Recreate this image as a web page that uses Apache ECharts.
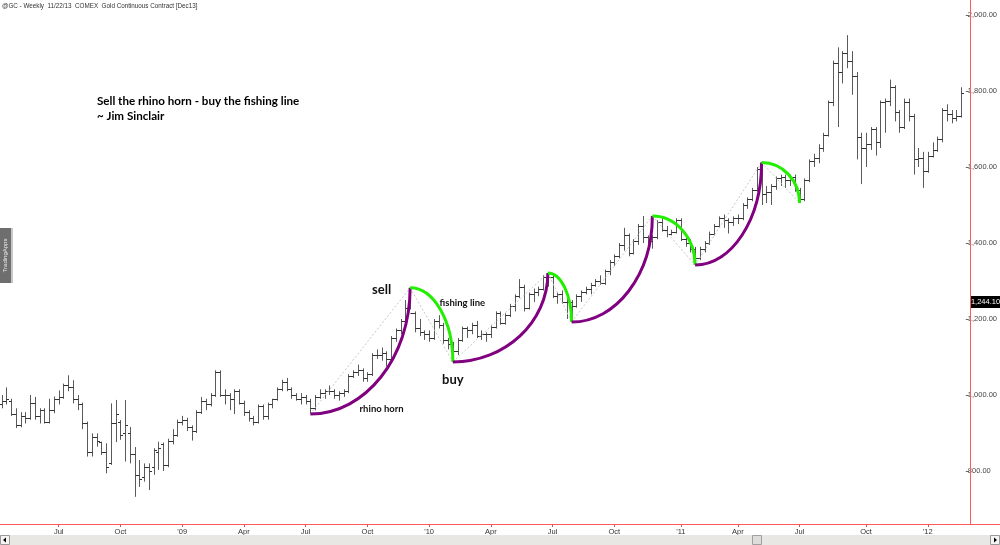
<!DOCTYPE html>
<html><head><meta charset="utf-8">
<script src="https://cdn.jsdelivr.net/npm/echarts@6/dist/echarts.min.js"></script>
<style>html,body{margin:0;padding:0;background:#fff}#c{width:1000px;height:545px}</style>
</head><body><div id="c"></div>
<script>
// ---------- DATA ----------
const firstWeek = '2008-04-11';   // first weekly bar (Friday)
const weekSlots = 204;            // 203 bars + one empty slot at the right edge
// weekly bars: [open, high, low, close]
const weeklyOHLC = [
[975,1000,965,985],[985,1020,975,990],[985,990,945,950],[950,965,913,920],[920,955,915,945],[945,955,925,940],[940,1000,935,980],[980,995,935,945],[945,965,925,960],[960,965,925,930],[930,990,925,960],[960,996,952,990],
[990,1012,975,995],[995,1030,990,1025],[1025,1052,1010,1020],[1020,1039,978,990],[990,1000,960,975],[975,980,910,925],[925,930,838,850],[850,899,838,890],[890,899,864,880],[875,877,842,850],[850,873,794,810],[820,978,816,925],[925,987,876,950],
[930,934,882,895],[900,987,825,920],[900,916,820,845],[845,863,732,790],[790,829,758,780],[785,820,772,810],[810,820,750,800],[810,860,790,855],[850,877,803,860],[870,875,800,815],[815,885,810,880],[880,910,870,895],[895,935,890,930],
[930,945,920,935],[935,940,905,915],[915,920,880,905],[905,960,900,955],[955,995,950,985],[985,990,960,975],[975,1005,970,1000],[1000,1065,995,1060],[1060,1065,995,1000],[1000,1015,975,1000],[1000,1005,960,990],[990,1015,950,1010],[1010,1015,975,980],
[980,985,945,955],[955,960,930,940],[940,945,920,930],[930,975,925,970],[970,975,935,945],[945,980,935,975],[975,990,965,990],[990,1020,985,1015],[1015,1040,1010,1035],[1035,1045,1010,1015],[1015,1020,990,1000],[1000,1005,985,990],[990,1005,975,995],
[995,1000,975,985],[985,990,950,965],[965,1000,960,995],[995,1015,990,1005],[1005,1015,990,1010],[1010,1025,1000,1010],[1010,1015,990,1000],[1000,1010,985,1005],[1005,1015,995,1010],[1010,1055,1005,1050],[1050,1065,1045,1060],[1060,1080,1050,1065],[1065,1070,1035,1045],
[1045,1060,1035,1055],[1055,1110,1050,1105],[1105,1120,1095,1105],[1105,1125,1090,1110],[1110,1115,1075,1095],[1095,1155,1090,1150],[1150,1175,1140,1170],[1170,1200,1160,1195],[1195,1250,1185,1230],[1230,1282,1225,1215],[1215,1220,1165,1175],[1175,1200,1155,1165],[1165,1170,1145,1160],
[1160,1170,1140,1150],[1150,1200,1145,1195],[1195,1210,1175,1185],[1185,1190,1135,1145],[1145,1150,1120,1135],[1135,1140,1087,1115],[1115,1150,1105,1145],[1145,1180,1140,1175],[1175,1180,1150,1170],[1170,1190,1160,1185],[1185,1195,1150,1155],[1155,1170,1145,1160],[1160,1165,1140,1160],
[1160,1185,1150,1180],[1180,1220,1175,1215],[1215,1220,1185,1190],[1190,1215,1185,1210],[1210,1240,1205,1235],[1235,1265,1220,1260],[1260,1305,1255,1285],[1285,1290,1220,1230],[1230,1270,1225,1265],[1265,1280,1245,1270],[1270,1285,1260,1280],[1280,1315,1275,1310],[1310,1321,1285,1310],
[1310,1315,1255,1260],[1260,1270,1240,1265],[1265,1275,1240,1245],[1245,1255,1200,1245],[1245,1250,1192,1235],[1235,1265,1230,1260],[1260,1275,1245,1270],[1270,1285,1265,1280],[1280,1295,1265,1290],[1290,1305,1285,1300],[1300,1315,1290,1295],[1295,1330,1290,1325],[1325,1355,1315,1350],
[1350,1370,1340,1365],[1365,1400,1360,1395],[1395,1440,1380,1420],[1420,1425,1365,1375],[1375,1410,1370,1405],[1405,1450,1395,1445],[1445,1471,1400,1415],[1415,1420,1380,1405],[1405,1420,1385,1415],[1415,1460,1410,1455],[1455,1470,1430,1435],[1435,1445,1415,1425],[1425,1435,1420,1430],
[1430,1465,1425,1460],[1460,1465,1405,1410],[1410,1420,1390,1400],[1400,1410,1375,1385],[1385,1390,1342,1360],[1360,1390,1355,1385],[1385,1405,1375,1400],[1400,1430,1395,1425],[1425,1450,1420,1445],[1445,1470,1440,1465],[1465,1475,1440,1460],[1460,1465,1425,1455],[1455,1470,1445,1465],
[1465,1475,1450,1465],[1465,1505,1460,1500],[1500,1520,1490,1515],[1515,1545,1510,1540],[1540,1600,1535,1595],[1595,1612,1500,1530],[1530,1550,1505,1535],[1535,1555,1500,1550],[1550,1575,1540,1570],[1570,1580,1550,1575],[1575,1580,1545,1565],[1565,1580,1550,1575],[1575,1580,1535,1540],
[1540,1545,1505,1515],[1515,1570,1510,1565],[1565,1620,1560,1615],[1615,1635,1600,1625],[1625,1660,1610,1650],[1650,1690,1640,1685],[1685,1775,1680,1770],[1770,1880,1760,1875],[1875,1915,1705,1850],[1850,1905,1820,1900],[1900,1947,1860,1880],[1880,1905,1790,1840],[1840,1850,1620,1680],
[1680,1690,1555,1650],[1650,1690,1600,1660],[1660,1705,1645,1700],[1700,1705,1630,1665],[1665,1775,1650,1770],[1770,1780,1690,1775],[1775,1830,1760,1810],[1810,1815,1720,1745],[1745,1750,1690,1705],[1705,1780,1700,1770],[1770,1780,1720,1735],[1735,1740,1580,1620],[1620,1650,1600,1625],
[1625,1640,1545,1590],[1590,1640,1585,1630],[1630,1665,1625,1645],[1645,1680,1640,1675],[1675,1755,1665,1750],[1750,1765,1720,1740],[1740,1750,1715,1730],[1730,1750,1720,1735],[1735,1810,1730,1795]
];
const priceTicks = [800, 1000, 1200, 1400, 1600, 1800, 2000];
const lastPrice = 1244.10;
// hand-drawn arcs: [start week, start price, end week, end price, kind]
const arcs = [
  ['2009-07-10', 950, '2009-12-04', 1282, 'horn'],
  ['2009-12-04', 1282, '2010-02-05', 1087, 'line'],
  ['2010-02-05', 1087, '2010-06-25', 1321, 'horn'],
  ['2010-06-25', 1321, '2010-07-30', 1192, 'line'],
  ['2010-07-30', 1192, '2010-11-26', 1471, 'horn'],
  ['2010-11-26', 1471, '2011-01-28', 1342, 'line'],
  ['2011-01-28', 1342, '2011-05-06', 1612, 'horn'],
  ['2011-05-06', 1612, '2011-07-01', 1505, 'line']
];
// text notes: [week, price, text, font size]
const notes = [
  ['2009-10-23', 1276, 'sell', 13],
  ['2010-02-19', 1242, 'fishing line', 9.5],
  ['2010-02-05', 1040, 'buy', 13],
  ['2009-10-23', 963, 'rhino horn', 9.5]
];
const headerText = '@GC - Weekly  11/22/13  COMEX  Gold Continuous Contract [Dec13]';
const quoteLines = ['Sell the rhino horn - buy the fishing line', '~ Jim Sinclair'];

// ---------- BUILD ----------
const categories = [];
{
  const d0 = new Date(firstWeek + 'T00:00:00Z');
  for (let i = 0; i < weekSlots; i++) {
    const d = new Date(d0.getTime() + i * 7 * 86400000);
    categories.push(d.toISOString().slice(0, 10));
  }
}
const monthNames = ['Jan','Feb','Mar','Apr','May','Jun','Jul','Aug','Sep','Oct','Nov','Dec'];
function quarterStart(i) {
  if (i <= 0) return false;
  const m = +categories[i].slice(5, 7), pm = +categories[i - 1].slice(5, 7);
  return m !== pm && (m - 1) % 3 === 0;
}
function axisName(v) {
  const m = +v.slice(5, 7);
  return m === 1 ? "'" + v.slice(2, 4) : monthNames[m - 1];
}
const barData = weeklyOHLC.map((r, i) => [i, r[0], r[1], r[2], r[3]]);
const arcData = arcs.map(a => [categories.indexOf(a[0]), a[1], categories.indexOf(a[2]), a[3], a[4]]);
const noteData = notes.map(n => [categories.indexOf(n[0]), n[1], n[2], n[3]]);

const BAR = '#5a5a5a';
function renderBar(params, api) {
  const i = api.value(0);
  const pH = api.coord([i, api.value(2)]);
  const pL = api.coord([i, api.value(3)]);
  const pO = api.coord([i, api.value(1)]);
  const pC = api.coord([i, api.value(4)]);
  const cx = Math.round(pH[0]) + 0.5;
  const oy = Math.round(pO[1]) + 0.5, cy = Math.round(pC[1]) + 0.5;
  return { type: 'group', children: [
    { type: 'line', shape: { x1: cx, y1: pH[1], x2: cx, y2: pL[1] }, style: { stroke: BAR, lineWidth: 1 } },
    { type: 'line', shape: { x1: cx - 2.5, y1: oy, x2: cx, y2: oy }, style: { stroke: '#333', lineWidth: 1 } },
    { type: 'line', shape: { x1: cx, y1: cy, x2: cx + 2.5, y2: cy }, style: { stroke: '#333', lineWidth: 1 } }
  ]};
}
function renderArc(params, api) {
  const s = api.coord([api.value(0), api.value(1)]);
  const e = api.coord([api.value(2), api.value(3)]);
  const kind = arcData[params.dataIndex][4];
  const k = 0.5523;
  // quarter ellipse: horizontal tangent at start, vertical tangent at end
  return { type: 'group', children: [
    { type: 'line', z2: 1, shape: { x1: s[0], y1: s[1], x2: e[0], y2: e[1] },
      style: { stroke: '#c8c8c8', lineWidth: 1, lineDash: [2, 2] } },
    { type: 'bezierCurve', z2: 5, shape: {
        x1: s[0], y1: s[1], x2: e[0], y2: e[1],
        cpx1: s[0] + k * (e[0] - s[0]), cpy1: s[1],
        cpx2: e[0], cpy2: e[1] + k * (s[1] - e[1]) },
      style: { stroke: kind === 'horn' ? '#800080' : '#22ee00', lineWidth: 3, fill: null } }
  ]};
}
function renderNote(params, api) {
  const p = api.coord([api.value(0), api.value(1)]);
  const n = noteData[params.dataIndex];
  return { type: 'text', x: p[0], y: p[1], style: {
    text: n[2], fill: '#111', font: 'bold ' + n[3] + 'px Lato, "Open Sans", sans-serif',
    textAlign: 'center', textVerticalAlign: 'middle' } };
}

const chart = echarts.init(document.getElementById('c'), null, { renderer: 'canvas' });
chart.setOption({
  animation: false,
  backgroundColor: '#fff',
  grid: { left: 1.7, right: 29.5, top: 0, bottom: 21, containLabel: false },
  xAxis: {
    type: 'category', data: categories, boundaryGap: false,
    axisLine: { show: false },
    axisTick: { show: true, interval: (i) => quarterStart(i), length: 3, lineStyle: { color: '#ee4444' } },
    axisLabel: { interval: (i) => quarterStart(i), formatter: (v) => axisName(v), fontSize: 7.5,
      fontFamily: 'Liberation Sans, Arial, sans-serif', color: '#333', margin: 4 },
    splitLine: { show: false }
  },
  yAxis: {
    type: 'value', position: 'right', min: 660.5, max: 2039.5, scale: true,
    axisLine: { show: false },
    axisTick: { show: true, customValues: priceTicks, length: 3, inside: false, lineStyle: { color: '#666' } },
    axisLabel: { customValues: priceTicks, fontSize: 7.5, fontFamily: 'Liberation Sans, Arial, sans-serif', color: '#444', margin: 2,
      formatter: (v) => v.toLocaleString('en-US', { minimumFractionDigits: 2, maximumFractionDigits: 2 }) },
    splitLine: { show: false }
  },
  series: [
    { type: 'custom', name: 'arcs', data: arcData, renderItem: renderArc, z: 3, silent: true,
      encode: { x: [0, 2], y: [1, 3] }, clip: false },
    { type: 'custom', name: 'bars', data: barData, renderItem: renderBar, z: 2, silent: true,
      encode: { x: 0, y: [1, 2, 3, 4] } },
    { type: 'custom', name: 'notes', data: noteData, renderItem: renderNote, z: 4, silent: true,
      encode: { x: 0, y: 1 } }
  ]
});

const lp = chart.convertToPixel({ yAxisIndex: 0 }, lastPrice);
chart.setOption({ graphic: [
  { type: 'line', shape: { x1: 970.5, y1: 0, x2: 970.5, y2: 524 }, style: { stroke: '#ff5a5a', lineWidth: 1 }, z: 50 },
  { type: 'line', shape: { x1: 0, y1: 524.5, x2: 1000, y2: 524.5 }, style: { stroke: '#ff5a5a', lineWidth: 1 }, z: 50 },
  { type: 'text', left: 2, top: 3, style: { text: headerText, fill: '#333', font: '6.3px "Liberation Sans", Arial, sans-serif' }, z: 50 },
  { type: 'text', left: 97, top: 95, style: { text: quoteLines[0], fill: '#000', font: 'bold 11.6px Lato, "Open Sans", sans-serif' }, z: 50 },
  { type: 'text', left: 97, top: 110, style: { text: quoteLines[1], fill: '#000', font: 'bold 11.6px Lato, "Open Sans", sans-serif' }, z: 50 },
  { type: 'rect', shape: { x: 971, y: Math.round(lp) - 6, width: 29, height: 12 }, style: { fill: '#000' }, z: 60 },
  { type: 'text', x: 985.5, y: Math.round(lp), style: { text: lastPrice.toLocaleString('en-US', { minimumFractionDigits: 2 }), fill: '#fff',
      font: '7.5px "Liberation Sans", Arial, sans-serif', textAlign: 'center', textVerticalAlign: 'middle' }, z: 61 },
  // scroll bar
  { type: 'rect', shape: { x: 0, y: 535, width: 1000, height: 10 }, style: { fill: '#e8e7e3' }, z: 50 },
  { type: 'rect', shape: { x: 0.5, y: 535.5, width: 9, height: 9 }, style: { fill: '#f4f4f2', stroke: '#9a9a9a' }, z: 51 },
  { type: 'polygon', shape: { points: [[3, 540], [6, 537.5], [6, 542.5]] }, style: { fill: '#000' }, z: 52 },
  { type: 'rect', shape: { x: 990.5, y: 535.5, width: 9, height: 9 }, style: { fill: '#f4f4f2', stroke: '#9a9a9a' }, z: 51 },
  { type: 'polygon', shape: { points: [[997, 540], [994, 537.5], [994, 542.5]] }, style: { fill: '#000' }, z: 52 },
  { type: 'rect', shape: { x: 752.5, y: 535.5, width: 9, height: 9 }, style: { fill: '#dddcd8', stroke: '#a0a0a0' }, z: 51 },
  // side tab
  { type: 'rect', shape: { x: 0, y: 228, width: 11, height: 55 }, style: { fill: '#6e6e6e' }, z: 50 },
  { type: 'rect', shape: { x: 11, y: 228, width: 2, height: 55 }, style: { fill: '#c8c8c8' }, z: 50 },
  { type: 'text', x: 5.5, y: 255.5, rotation: Math.PI / 2, style: { text: 'TradingApps', fill: '#eee',
      font: '6px "Liberation Sans", Arial, sans-serif', textAlign: 'center', textVerticalAlign: 'middle' }, z: 51 }
]});
</script></body></html>
